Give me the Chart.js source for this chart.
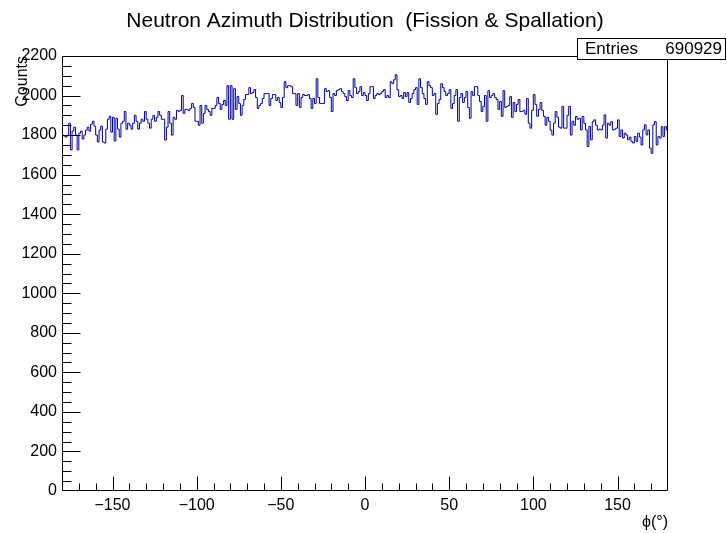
<!DOCTYPE html>
<html>
<head>
<meta charset="utf-8">
<script src="https://cdn.jsdelivr.net/npm/chart.js@4.4.1/dist/chart.umd.min.js"></script>
<style>
html,body{margin:0;padding:0;background:#fff;}
#c{display:block;}
</style>
</head>
<body>
<canvas id="c" width="727" height="533"></canvas>
<script>
// ---- data ----
const title = "Neutron Azimuth Distribution  (Fission & Spallation)";
const xTitle = "\u03d5(\u00b0)";
const yTitle = "Counts";
const statsLabel = "Entries";
const statsValue = "690929";
const binLow = -180, binHigh = 180, nBins = 360;
const xTickLabels = [-150, -100, -50, 0, 50, 100, 150];
const yTickLabels = [0, 200, 400, 600, 800, 1000, 1200, 1400, 1600, 1800, 2000, 2200];
// counts per 1-degree bin, from phi=-180 to phi=179 (low edges)
const counts = [
 1800,1795,1790,1800,1860,1725,1820,1840,1800,1725,
 1810,1820,1780,1800,1825,1840,1820,1855,1870,1845,
 1800,1765,1825,1845,1765,1760,1830,1880,1895,1815,
 1890,1770,1885,1830,1790,1860,1870,1919,1830,1860,
 1850,1830,1860,1900,1870,1830,1860,1880,1870,1919,
 1880,1860,1835,1880,1900,1870,1890,1919,1900,1880,
 1880,1775,1840,1919,1860,1800,1890,1880,1925,1920,
 1925,2000,1910,1930,1930,1925,1935,1960,1940,1870,
 1870,1850,1950,1860,1910,1950,1930,1919,1900,1935,
 1935,1950,1990,1960,1930,1955,1975,1950,2050,1880,
 2050,1880,2035,1930,1995,1960,1900,1950,1980,2005,
 2005,2040,2010,2015,2030,1990,1935,1950,1960,1985,
 2010,2010,2010,1950,1985,2005,2005,1975,1990,1965,
 1940,1990,2070,2040,2050,2050,2045,2010,2010,1950,
 2010,1940,1990,2005,2000,2000,2005,1985,1935,1985,
 1960,2085,1990,1960,1960,1960,2035,2020,2025,1990,
 1919,2010,2000,2025,2030,2035,2020,2010,1995,1975,
 2025,2000,1990,2085,2040,2010,2020,2045,2000,2015,
 2000,1975,2010,2045,2045,1985,2000,2010,2005,2010,
 2020,2030,1990,2000,1990,2070,2060,2080,2105,2030,
 1995,2000,1985,2015,1995,2015,1965,1985,2010,2030,
 2040,1955,2085,2040,2010,1985,1955,2070,2050,2040,
 2000,2010,1905,1960,1980,2060,2040,2020,2000,2010,
 2030,1935,1960,2000,2030,1870,1990,2010,1965,1990,
 2020,1940,1885,2020,2000,2045,2045,2000,1970,1919,
 1945,2000,1870,2025,1990,2000,2010,1990,1980,1930,
 1970,1895,2025,1940,1945,1950,1995,1890,1965,1919,
 1955,1980,1919,1920,1925,1905,1985,1860,1835,1925,
 2005,1955,1895,1930,1965,1925,1895,1850,1890,1870,
 1825,1800,1860,1919,1890,1840,1835,1945,1835,1835,
 1900,1945,1800,1870,1850,1894,1880,1885,1826,1894,
 1860,1826,1742,1843,1776,1868,1877,1850,1826,1830,
 1826,1850,1902,1785,1860,1850,1868,1826,1830,1835,
 1877,1793,1826,1785,1810,1800,1776,1790,1768,1760,
 1793,1768,1810,1790,1750,1826,1852,1801,1826,1734,
 1708,1852,1868,1750,1793,1785,1843,1793,1843,1826
];
// ---- end data ----

const binWidth = (binHigh - binLow) / nBins;
const points = counts.map((v, i) => ({x: binLow + i * binWidth, y: v}));
points.push({x: binHigh, y: counts[counts.length - 1]});

const FONT = "'Liberation Sans', Arial, Helvetica, sans-serif";

const rootDecor = {
  id: 'rootDecor',
  afterDraw(chart) {
    const ctx = chart.ctx;
    const a = chart.chartArea;
    const xs = chart.scales.x, ys = chart.scales.y;
    const L = Math.round(a.left) + 0.5, R = Math.round(a.right) - 0.5;
    const T = Math.round(a.top) + 0.5, B = Math.round(a.bottom) - 0.5;
    ctx.save();
    ctx.strokeStyle = '#000';
    ctx.lineWidth = 1;
    ctx.beginPath();
    ctx.rect(L, T, R - L, B - T);
    ctx.stroke();
    ctx.beginPath();
    for (let v = -170; v <= 170; v += 10) {
      const px = Math.round(xs.getPixelForValue(v)) + 0.5;
      const len = (v % 50 === 0) ? 14 : 7;
      ctx.moveTo(px, B);
      ctx.lineTo(px, B - len);
    }
    for (let v = 50; v < ys.max; v += 50) {
      const py = Math.round(ys.getPixelForValue(v)) + 0.5;
      const len = (v % 200 === 0) ? 18 : 9;
      ctx.moveTo(L, py);
      ctx.lineTo(L + len, py);
    }
    ctx.stroke();

    ctx.fillStyle = '#000';
    ctx.font = "21px " + FONT;
    ctx.textAlign = 'center';
    ctx.textBaseline = 'alphabetic';
    ctx.fillText(title, 365, 27);

    ctx.fillStyle = '#fff';
    ctx.fillRect(577, 38, 149, 21);
    ctx.strokeRect(577.5, 38.5, 148, 21);
    ctx.fillStyle = '#000';
    ctx.font = "17px " + FONT;
    ctx.textAlign = 'left';
    ctx.fillText(statsLabel, 585, 54);
    ctx.textAlign = 'right';
    ctx.fillText(statsValue, 722, 54);

    ctx.save();
    ctx.font = "16px " + FONT;
    ctx.translate(27, 56);
    ctx.rotate(-Math.PI / 2);
    ctx.textAlign = 'right';
    ctx.textBaseline = 'alphabetic';
    ctx.fillText(yTitle, 0, 0);
    ctx.restore();

    ctx.font = "16px " + FONT;
    ctx.textAlign = 'right';
    ctx.textBaseline = 'alphabetic';
    ctx.fillText(xTitle, 668, 527);
    ctx.restore();
  }
};

new Chart(document.getElementById('c'), {
  type: 'line',
  data: {
    datasets: [{
      data: points,
      stepped: true,
      borderColor: '#0000a8',
      borderWidth: 1,
      pointRadius: 0,
      fill: false,
      tension: 0
    }]
  },
  options: {
    responsive: false,
    animation: false,
    devicePixelRatio: 1,
    layout: {padding: {left: 0, right: 59, top: 56, bottom: 0}},
    plugins: {legend: {display: false}, tooltip: {enabled: false}, title: {display: false}},
    scales: {
      x: {
        type: 'linear', min: binLow, max: binHigh,
        afterBuildTicks: s => { s.ticks = xTickLabels.map(v => ({value: v})); },
        afterFit: s => { s.height = 42; },
        grid: {display: false, drawTicks: false},
        border: {display: false},
        ticks: {
          padding: 5, color: '#000', font: {family: FONT, size: 16},
          maxRotation: 0, autoSkip: false,
          callback: v => (v < 0 ? '\u2212' + Math.abs(v) : String(v))
        }
      },
      y: {
        type: 'linear', min: 0, max: 2200,
        afterBuildTicks: s => { s.ticks = yTickLabels.map(v => ({value: v})); },
        afterFit: s => { s.width = 62; },
        grid: {display: false, drawTicks: false},
        border: {display: false},
        ticks: {
          padding: 5, color: '#000', font: {family: FONT, size: 16},
          autoSkip: false,
          callback: v => String(v)
        }
      }
    }
  },
  plugins: [rootDecor]
});
</script>
</body>
</html>
